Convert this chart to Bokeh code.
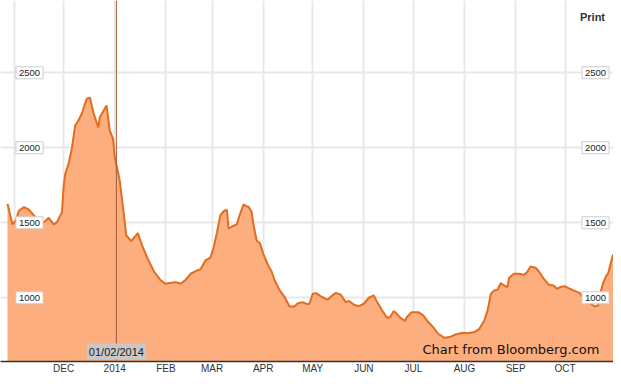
from datetime import datetime
from bokeh.plotting import figure
from bokeh.models import FixedTicker, Span, Label, ColumnDataSource
from bokeh.embed import file_html
from bokeh.resources import INLINE

# ---- data ----
dates = [
    "2013-10-28", "2013-10-31", "2013-11-02", "2013-11-04", "2013-11-07", "2013-11-10",
    "2013-11-13", "2013-11-16", "2013-11-19", "2013-11-22", "2013-11-25", "2013-11-27",
    "2013-11-30", "2013-12-01", "2013-12-02", "2013-12-04", "2013-12-06", "2013-12-08",
    "2013-12-10", "2013-12-12", "2013-12-15", "2013-12-17", "2013-12-19", "2013-12-22",
    "2013-12-23", "2013-12-27", "2013-12-29", "2013-12-31", "2014-01-01", "2014-01-03",
    "2014-01-04", "2014-01-06", "2014-01-08", "2014-01-11", "2014-01-13", "2014-01-15",
    "2014-01-18", "2014-01-21", "2014-01-25", "2014-01-29", "2014-02-01", "2014-02-04",
    "2014-02-07", "2014-02-10", "2014-02-13", "2014-02-16", "2014-02-20", "2014-02-22",
    "2014-02-25", "2014-02-28", "2014-03-02", "2014-03-04", "2014-03-06", "2014-03-08",
    "2014-03-10", "2014-03-11", "2014-03-13", "2014-03-16", "2014-03-18", "2014-03-20",
    "2014-03-22", "2014-03-23", "2014-03-25", "2014-03-26", "2014-03-28", "2014-03-30",
    "2014-04-01", "2014-04-04", "2014-04-06", "2014-04-08", "2014-04-11", "2014-04-14",
    "2014-04-17", "2014-04-20", "2014-04-22", "2014-04-25", "2014-04-27", "2014-04-29",
    "2014-05-01", "2014-05-03", "2014-05-06", "2014-05-10", "2014-05-13", "2014-05-15",
    "2014-05-18", "2014-05-21", "2014-05-23", "2014-05-26", "2014-05-29", "2014-06-01",
    "2014-06-04", "2014-06-07", "2014-06-09", "2014-06-12", "2014-06-15", "2014-06-17",
    "2014-06-19", "2014-06-21", "2014-06-23", "2014-06-26", "2014-06-27", "2014-06-30",
    "2014-07-04", "2014-07-07", "2014-07-10", "2014-07-13", "2014-07-16", "2014-07-20",
    "2014-07-23", "2014-07-26", "2014-07-31", "2014-08-03", "2014-08-07", "2014-08-10",
    "2014-08-13", "2014-08-15", "2014-08-17", "2014-08-19", "2014-08-21", "2014-08-23",
    "2014-08-25", "2014-08-27", "2014-08-28", "2014-08-31", "2014-09-03", "2014-09-06",
    "2014-09-08", "2014-09-10", "2014-09-13", "2014-09-15", "2014-09-18", "2014-09-21",
    "2014-09-24", "2014-09-26", "2014-09-28", "2014-10-01", "2014-10-03", "2014-10-06",
    "2014-10-10", "2014-10-12", "2014-10-16", "2014-10-19", "2014-10-21", "2014-10-22",
    "2014-10-24", "2014-10-26", "2014-10-27", "2014-10-30",
]
values = [
    1627, 1489, 1515, 1582, 1604, 1587,
    1549, 1504, 1504, 1533, 1489, 1504,
    1571, 1737, 1827, 1893, 1993, 2149,
    2182, 2227, 2327, 2333, 2237, 2135,
    2204, 2282, 2115, 2060, 1937, 1837,
    1782, 1604, 1415, 1377, 1404, 1431,
    1337, 1260, 1171, 1115, 1093, 1100,
    1104, 1093, 1120, 1160, 1182, 1190,
    1249, 1267, 1337, 1437, 1549, 1577,
    1587, 1460, 1475, 1489, 1560, 1622,
    1609, 1609, 1571, 1493, 1382, 1364,
    1293, 1215, 1177, 1115, 1049, 1004,
    942, 942, 964, 971, 960, 958,
    1027, 1031, 1009, 987, 1016, 1033,
    1020, 971, 978, 953, 944, 960,
    1000, 1016, 971, 916, 867, 871,
    911, 893, 867, 845, 870, 904,
    904, 882, 838, 804, 760, 733,
    738, 753, 767, 764, 771, 793,
    849, 916, 1027, 1049, 1053, 1098,
    1082, 1071, 1133, 1160, 1160, 1153,
    1171, 1209, 1200, 1177, 1127, 1087,
    1082, 1060, 1071, 1076, 1064, 1049,
    1031, 996, 964, 942, 949, 1016,
    1098, 1149, 1160, 1289,
]
month_ticks = ["2013-11-01", "2013-12-01", "2014-01-01", "2014-02-01", "2014-03-01",
               "2014-04-01", "2014-05-01", "2014-06-01", "2014-07-01", "2014-08-01",
               "2014-09-01", "2014-10-01"]
month_labels = ["", "DEC", "2014", "FEB", "MAR", "APR", "MAY", "JUN", "JUL", "AUG",
                "SEP", "OCT"]
y_ticks = [1000, 1500, 2000, 2500]
y_tick_labels = ["1000", "1500", "2000", "2500"]
marker_date = "2014-01-02"
marker_label = "01/02/2014"


def to_dt(s):
    return datetime.strptime(s, "%Y-%m-%d")


def to_ms(s):
    return (to_dt(s) - datetime(1970, 1, 1)).total_seconds() * 1000.0


src = ColumnDataSource(dict(x=[to_dt(d) for d in dates], y=values))

x_start = datetime(2013, 10, 23, 18, 14)
x_end = datetime(2014, 10, 30, 7, 12)

p = figure(width=613, height=376, x_axis_type="datetime", y_axis_location=None,
           toolbar_location=None, output_backend="svg",
           x_range=(x_start, x_end), y_range=(575, 2982),
           min_border_left=0, min_border_right=0, min_border_top=0, min_border_bottom=0)
p.outline_line_color = None
p.background_fill_color = "white"
p.border_fill_color = "white"

tick_ms = [to_ms(t) for t in month_ticks]
p.xaxis.ticker = FixedTicker(ticks=tick_ms)
p.xaxis.major_label_overrides = {t: lab for t, lab in zip(tick_ms, month_labels)}
p.xaxis.major_tick_line_color = None
p.xaxis.minor_tick_line_color = None
p.xaxis.major_tick_out = 0
p.xaxis.major_tick_in = 0
p.xaxis.axis_line_color = "#333333"
p.xaxis.axis_line_width = 1.5
p.xaxis.major_label_standoff = 1
p.xaxis.major_label_text_font = "Liberation Sans"
p.xaxis.major_label_text_font_size = "10px"
p.xaxis.major_label_text_color = "#333333"

p.xgrid.ticker = FixedTicker(ticks=tick_ms)
p.xgrid.grid_line_color = "#e8e8e8"
p.xgrid.grid_line_width = 2
p.ygrid.ticker = FixedTicker(ticks=y_ticks)
p.ygrid.grid_line_color = "#e8e8e8"
p.ygrid.grid_line_width = 2

p.varea(x="x", y1=0, y2="y", source=src, fill_color="#fdae7e", fill_alpha=1.0)
p.line(x="x", y="y", source=src, line_color="#e36c1e", line_width=2)

p.add_layout(Span(location=to_ms(marker_date), dimension="height",
                  line_color="#a5593a", line_width=1))

for v, t in zip(y_ticks, y_tick_labels):
    for sx in (29, 595):
        p.add_layout(Label(x=sx, x_units="screen", y=v, text=t,
                           text_align="center", text_baseline="middle",
                           text_font="Liberation Sans", text_font_size="9.5px",
                           text_color="#222222",
                           background_fill_color="white",
                           border_line_color="#cccccc", border_line_width=1,
                           padding=3))

p.add_layout(Label(x=to_ms(marker_date), y=2, y_units="screen", text=marker_label,
                   text_align="center", text_baseline="bottom",
                   text_font="Liberation Sans", text_font_size="11px",
                   text_color="#222222", background_fill_color="#c8c8c8",
                   padding=2))

p.add_layout(Label(x=592, x_units="screen", y=2869, text="Print",
                   text_align="center", text_baseline="middle",
                   text_font="Liberation Sans", text_font_size="11px",
                   text_font_style="bold", text_color="#333333"))

p.add_layout(Label(x=422, x_units="screen", y=655, text="Chart from Bloomberg.com",
                   text_align="left", text_baseline="middle",
                   text_font="DejaVu Sans", text_font_size="13px",
                   text_color="#111111"))

open("out.html", "w").write(file_html(p, INLINE))
